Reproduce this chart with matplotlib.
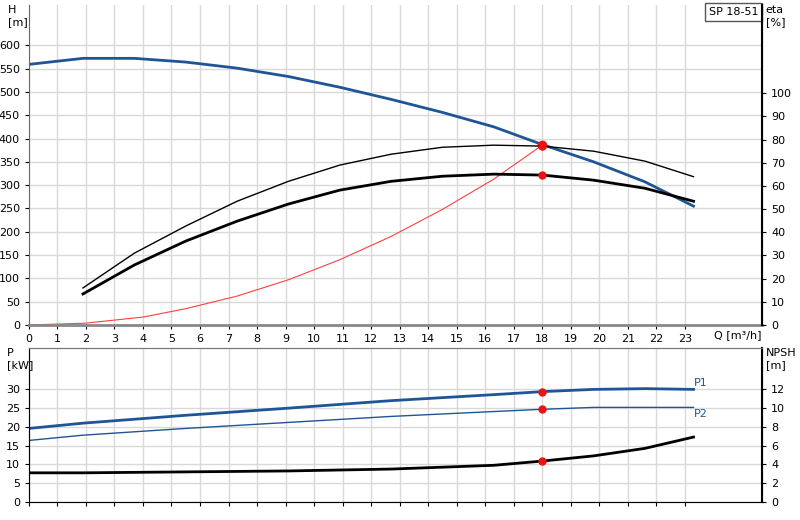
import matplotlib
matplotlib.use("Agg")
import matplotlib.pyplot as plt

q_h = [0, 1.9, 3.7, 5.5, 7.3, 9.1, 10.9, 12.7, 14.5, 16.3, 18.0, 19.8, 21.6, 23.3]
h = [559, 572, 572, 564, 551, 533, 510, 484, 456, 425, 387, 350, 307, 255]
q_e = [1.9, 3.7, 5.5, 7.3, 9.1, 10.9, 12.7, 14.5, 16.3, 18.0, 19.8, 21.6, 23.3]
eta_pump = [16, 31, 42.7, 53.4, 62, 69, 73.7, 76.7, 77.6, 77.2, 75, 70.7, 64]
eta_total = [13.4, 25.9, 36.2, 44.8, 52.2, 58.2, 62, 64.2, 65.1, 64.7, 62.5, 59, 53.4]
q_sys = [0, 2, 4, 5.5, 7.3, 9.1, 10.9, 12.7, 14.5, 16.3, 18.0]
h_sys = [0, 4, 17, 35, 62, 97, 140, 190, 248, 313, 386]
q_p = [0, 1.9, 5.5, 9.1, 12.7, 16.3, 18.0, 19.8, 21.6, 23.3]
p1 = [19.6, 21, 23.1, 25, 27, 28.6, 29.4, 30, 30.2, 30]
p2 = [16.4, 17.8, 19.6, 21.2, 22.8, 24.1, 24.7, 25.2, 25.2, 25.2]
q_n = [0, 1.9, 5.5, 9.1, 10.9, 12.7, 14.5, 16.3, 18.0, 19.8, 21.6, 23.3]
npsh = [3.1, 3.1, 3.2, 3.3, 3.4, 3.5, 3.7, 3.9, 4.35, 4.9, 5.7, 6.9]
q_op = 18.0
h_op, etap_op, etat_op, p1_op, p2_op, npsh_op = 387, 77.2, 64.7, 29.4, 24.7, 4.35
title = "SP 18-51"

blue = "#1f5596"
grid = "#d9d9d9"
fs = 8
plt.rcParams["font.family"] = ["DejaVu Sans"]
plt.rcParams["font.size"] = fs

fig = plt.figure(figsize=(8, 5.2), dpi=100)
XMAX = 25.7
ax = fig.add_axes([0.036, 0.375, 0.9165, 0.615])
ax.set_xlim(0, XMAX); ax.set_ylim(0, 686)
ax.set_xticks(range(0, 24)); ax.set_yticks(range(0, 601, 50))
ax.grid(True, color=grid, lw=1); ax.set_axisbelow(True)
ax.plot(q_h, h, color=blue, lw=2)
ax.plot(q_sys, h_sys, color="#ff4040", lw=0.8)
ax.plot([q_op], [h_op], "o", color="#ee1111", ms=6, zorder=5)
ax2 = ax.twinx(); ax2.set_ylim(0, 138); ax2.set_yticks(range(0, 101, 10))
ax2.plot(q_e, eta_pump, color="black", lw=1)
ax2.plot(q_e, eta_total, color="black", lw=2)
ax2.plot([q_op, q_op], [etap_op, etat_op], "o", color="#ee1111", ms=5, zorder=5)
for a in (ax, ax2):
    a.tick_params(labelsize=fs, length=3)
    a.spines["top"].set_visible(False)
ax.spines["left"].set_color("#666"); ax.spines["bottom"].set_color("#888"); ax.spines["bottom"].set_linewidth(2)
ax2.spines["right"].set_linewidth(1.5); ax2.spines["left"].set_visible(False); ax2.spines["bottom"].set_visible(False)
ax.text(-0.028, 1.0, "H\n[m]", transform=ax.transAxes, ha="left", va="top", fontsize=fs)
ax2.text(1.005, 1.0, "eta\n[%]", transform=ax2.transAxes, ha="left", va="top", fontsize=fs)
ax.text(24.0, -10, "Q [m³/h]", ha="left", va="top", fontsize=fs)
ax.text(0.995, 0.995, title, transform=ax.transAxes, ha="right", va="top", fontsize=fs,
        bbox=dict(boxstyle="square,pad=0.35", fc="white", ec="#555"))

bx = fig.add_axes([0.036, 0.0346, 0.9165, 0.296])
bx.set_xlim(0, XMAX); bx.set_ylim(0, 41)
bx.set_xticks(range(0, 24)); bx.set_xticklabels([]); bx.set_yticks(range(0, 31, 5))
bx.tick_params(axis="x", length=0)
bx.grid(True, color=grid, lw=1); bx.set_axisbelow(True)
bx.plot(q_p, p1, color=blue, lw=2)
bx.plot(q_p, p2, color=blue, lw=1)
bx.plot([q_op, q_op], [p1_op, p2_op], "o", color="#ee1111", ms=5, zorder=5)
bx.text(23.3, p1[-1] + 0.3, "P1", color=blue, fontsize=fs, va="bottom")
bx.text(23.3, p2[-1] - 0.4, "P2", color=blue, fontsize=fs, va="top")
bx2 = bx.twinx(); bx2.set_ylim(0, 16.35); bx2.set_yticks(range(0, 13, 2))
bx2.plot(q_n, npsh, color="black", lw=2)
bx2.plot([q_op], [npsh_op], "o", color="#ee1111", ms=5, zorder=5)
for a in (bx, bx2):
    a.tick_params(labelsize=fs, length=3)
    a.spines["top"].set_color("#777")
bx.spines["left"].set_color("#666"); bx.spines["bottom"].set_color("#888")
bx2.spines["right"].set_linewidth(1.5)
bx.text(-0.03, 1.0, "P\n[kW]", transform=bx.transAxes, ha="left", va="top", fontsize=fs)
bx2.text(1.005, 1.0, "NPSH\n[m]", transform=bx2.transAxes, ha="left", va="top", fontsize=fs)

fig.savefig("out.png", dpi=100)
